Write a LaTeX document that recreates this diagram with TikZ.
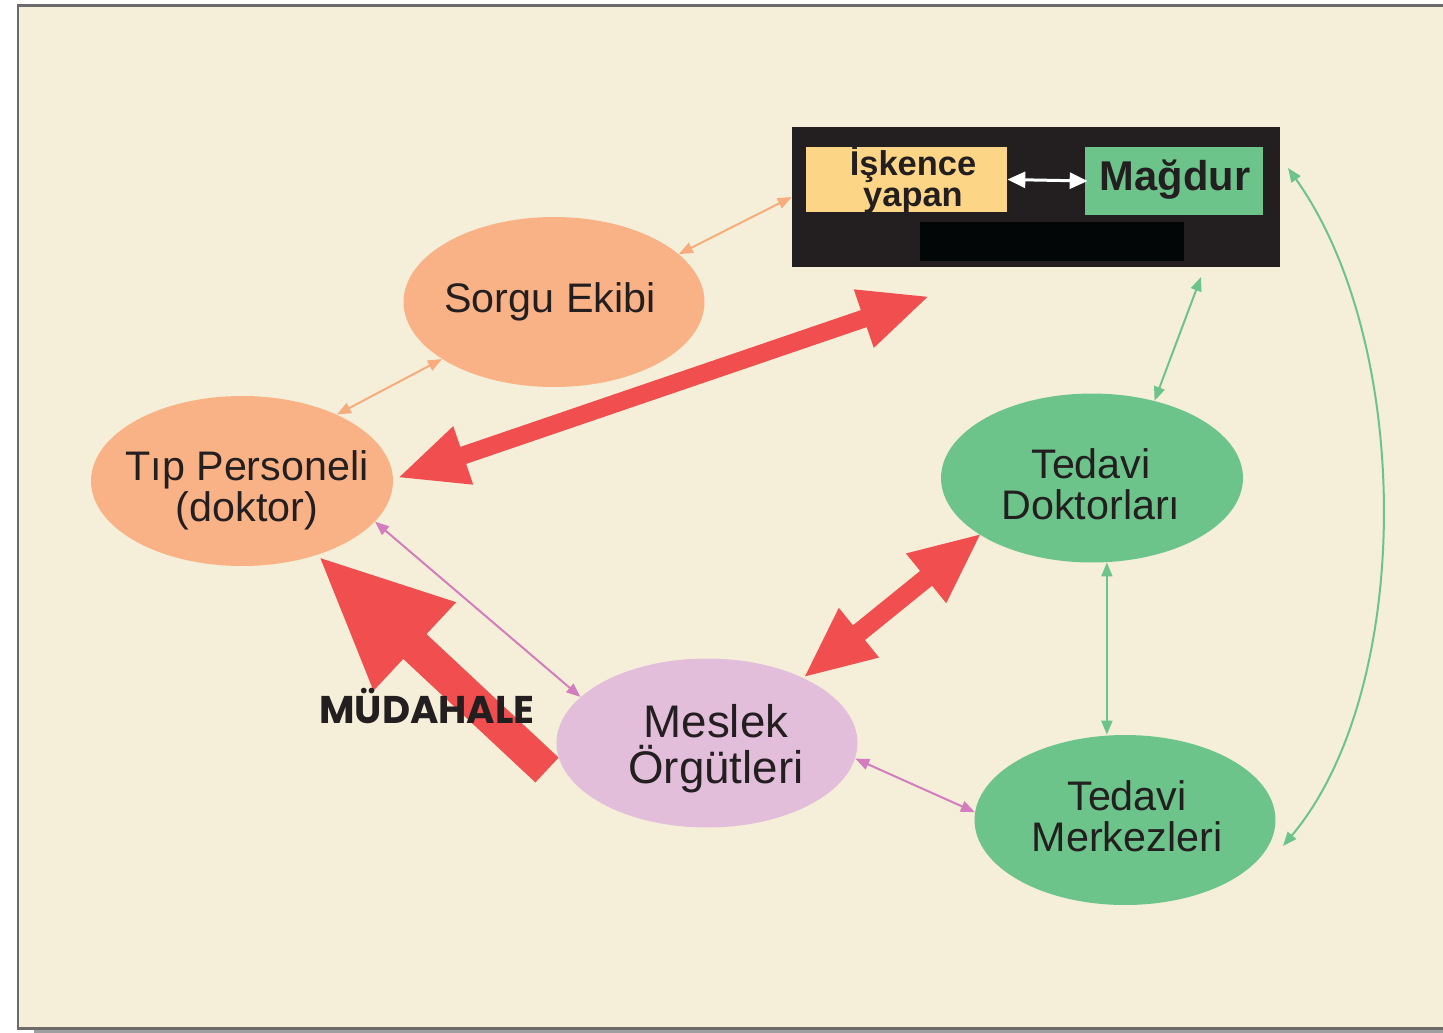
\documentclass[tikz,border=0pt]{standalone}
\usepackage{fontspec}
\setmainfont{Liberation Sans}
\newfontfamily\popp{Poppins}
\usetikzlibrary{arrows.meta,shapes.geometric,calc}
\definecolor{cream}{HTML}{F5EFD9}
\definecolor{peach}{HTML}{F9B286}
\definecolor{peachline}{HTML}{F7AC7E}
\definecolor{greenn}{HTML}{6CC48A}
\definecolor{lilac}{HTML}{E3BEDB}
\definecolor{pinkline}{HTML}{D37DBE}
\definecolor{redarr}{HTML}{F04E4F}
\definecolor{ink}{HTML}{231F20}
\definecolor{yell}{HTML}{FCD586}
\definecolor{framecol}{HTML}{6D6A6B}
\definecolor{deepblack}{HTML}{020606}
\begin{document}
\begin{tikzpicture}[x=0.02cm,y=-0.02cm,
  ell/.style={ellipse, inner sep=0pt},
  elltext/.style={align=center, text=ink, inner sep=0pt, font=\fontsize{23.5}{23.5}\selectfont},
  thinarrow/.style={line width=0.04cm, {Triangle[length=0.28cm,width=0.22cm]}-{Triangle[length=0.28cm,width=0.22cm]}},
  bigarrow/.style={redarr, line width=#1},
  boxtext/.style={text=ink, font=\bfseries, align=center, inner sep=0pt}
]
\useasboundingbox (0,0) rectangle (1443,1032);
\fill[white] (0,0) rectangle (1443,1032);
% frame with shadow
\fill[gray!75] (34,1026) rectangle (1443,1033);
\fill[cream] (18,5) rectangle (1450,1028);
\draw[framecol, line width=0.06cm] (1450,5) -- (18,5) -- (18,1028) -- (1450,1028);

% coordinates for connector ends
\coordinate (a1) at (397,478);
\coordinate (a2) at (930,296);
\coordinate (m1) at (547,770);
\coordinate (m2) at (317,555);
\coordinate (d1) at (803,678);
\coordinate (d2) at (982,533);
\coordinate (bx1) at (1201,277);
\coordinate (c1) at (1288,168);
\coordinate (c2) at (1283,846);

% big red arrows
\draw[bigarrow=0.36cm, {Triangle[length=1.4cm,width=1.12cm]}-{Triangle[length=1.4cm,width=1.12cm]}] (a1) -- (a2);
\draw[bigarrow=0.68cm, -{Triangle[length=2.68cm,width=2.2cm]}] (m1) -- (m2);
\draw[bigarrow=0.38cm, {Triangle[length=1.44cm,width=1.16cm]}-{Triangle[length=1.44cm,width=1.16cm]}] (d1) -- (d2);

% ellipses
\node[ell, fill=peach, minimum width=6.02cm, minimum height=3.4cm] (sorgu) at (554,302) {};
\node[ell, fill=peach, minimum width=6.04cm, minimum height=3.4cm] (tip) at (242,481) {};
\node[ell, fill=greenn, minimum width=6.04cm, minimum height=3.38cm] (dok) at (1092,478) {};
\node[ell, fill=lilac, minimum width=6.02cm, minimum height=3.38cm] (mes) at (707,743) {};
\node[ell, fill=greenn, minimum width=6.02cm, minimum height=3.4cm] (mer) at (1125,820) {};

\node[elltext] (sorgutxt) at (550,302) {Sorgu Ekibi};
\node[elltext] (tiptxt) at (247,490) {Tıp Personeli\\(doktor)};
\node[elltext] (doktxt) at (1091,484) {Tedavi\\Doktorları};
\node[elltext, font=\fontsize{26}{26}\selectfont] (mestxt) at (716,749) {Meslek\\Örgütleri};
\node[elltext] (mertxt) at (1127,816) {Tedavi\\Merkezleri};

% black box
\node[fill=ink, minimum width=9.76cm, minimum height=2.8cm, inner sep=0pt] (box) at (1036,197) {};
\node[fill=yell, minimum width=4.02cm, minimum height=1.3cm, inner sep=0pt] (yel) at (906.5,179.5) {};
\node[boxtext, font=\bfseries\fontsize{19.6}{17.5}\selectfont] (yeltxt) at (913,180) {İşkence\\yapan};
\node[fill=greenn, minimum width=3.56cm, minimum height=1.36cm, inner sep=0pt] (mag) at (1174,181) {};
\node[boxtext, font=\bfseries\fontsize{23.7}{24}\selectfont] (magtxt) at (1175,180) {Mağdur};
\node[fill=deepblack, minimum width=5.28cm, minimum height=0.78cm, inner sep=0pt] (blk) at (1052,241.5) {};
\draw[white, line width=0.06cm, {Triangle[length=0.36cm,width=0.32cm]}-{Triangle[length=0.36cm,width=0.32cm]}] (yel.east) -- ([xshift=0.06cm]mag.west);

% thin connectors
\draw[peachline, thinarrow] (sorgu.21) -- (box.west);
\draw[peachline, thinarrow] (sorgu.207) -- (tip.35);
\draw[pinkline, thinarrow] (tip.-17) -- (mes.160);
\draw[pinkline, thinarrow] (mes.-6) -- (mer.177);
\draw[greenn, thinarrow] (dok.51) -- (bx1);
\draw[greenn, thinarrow] (dok.-80) -- (dok.-80 |- mer.north);
\draw[greenn, thinarrow] (c1) .. controls (1414,345) and (1414,690) .. (c2);

% label
\node[text=ink, font=\popp\bfseries\fontsize{22}{22}\selectfont, inner sep=0pt] (mud) at (427,706) {MÜDAHALE};
\end{tikzpicture}
\end{document}
